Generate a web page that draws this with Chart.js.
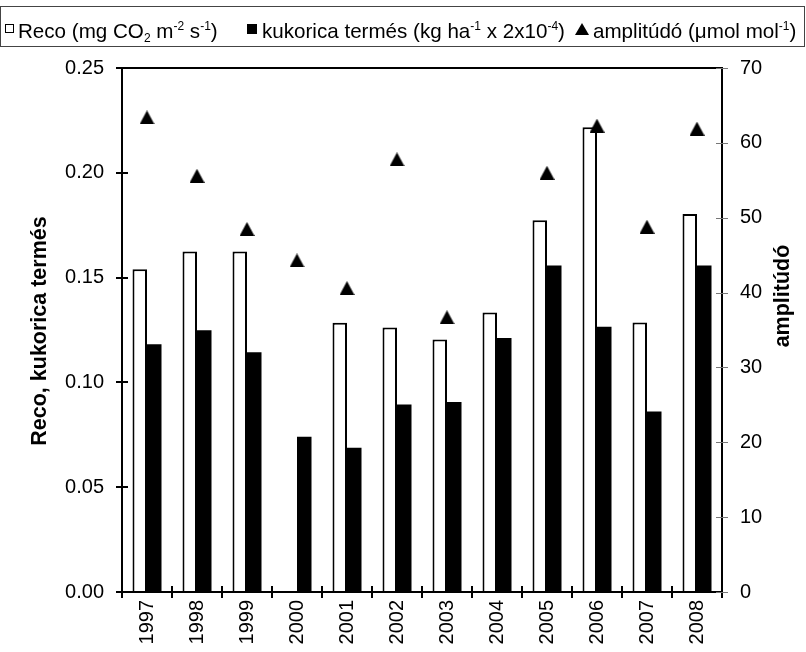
<!DOCTYPE html>
<html>
<head>
<meta charset="utf-8">
<script src="https://cdn.jsdelivr.net/npm/chart.js@4/dist/chart.umd.min.js"></script>
<style>
  html, body { margin: 0; padding: 0; background: #fff; }
  #wrap { position: relative; width: 806px; height: 652px; }
  #chart { position: absolute; left: 0; top: 0; }
  #legend {
    position: absolute; left: 0; top: 6px; width: 805px; height: 41px;
    border: 1px solid #444; box-sizing: border-box;
    font-family: 'Liberation Sans', Arial, sans-serif; font-size: 20.6px; color: #000;
  }
  .item { position: absolute; top: 12px; line-height: 23px; white-space: nowrap; }
  .sw { position: absolute; }
  sup, sub { font-size: 12px; position: relative; vertical-align: baseline; line-height: 0; }
  sup { top: -8px; }
  sub { top: 4px; }
</style>
</head>
<body>
<div id="wrap">
  <canvas id="chart" width="806" height="652"></canvas>
  <div id="legend">
    <span class="sw" style="left:4px;top:17px;width:7px;height:7px;border:1.5px solid #000;background:#fff"></span>
    <span class="item" style="left:17px">Reco (mg CO<sub>2</sub> m<sup>-2</sup> s<sup>-1</sup>)</span>
    <span class="sw" style="left:246px;top:17px;width:10px;height:10px;background:#000"></span>
    <span class="item" style="left:261px">kukorica termés (kg ha<sup>-1</sup> x 2x10<sup>-4</sup>)</span>
    <span class="sw" style="left:574px;top:16px;width:0;height:0;border-left:7px solid transparent;border-right:7px solid transparent;border-bottom:12px solid #000"></span>
    <span class="item" style="left:592px">amplitúdó (μmol mol<sup>-1</sup>)</span>
  </div>
</div>
<script>
// Years on the category axis
const years = ['1997', '1998', '1999', '2000', '2001', '2002', '2003', '2004', '2005', '2006', '2007', '2008'];
// Ecosystem respiration (mg CO2 m-2 s-1); no value for 2000
const reco = [0.154, 0.1624, 0.1624, null, 0.1284, 0.1262, 0.1205, 0.1334, 0.1774, 0.2217, 0.1286, 0.1804];
// Maize yield (kg ha-1 x 2x10-4)
const termes = [0.1182, 0.1249, 0.1144, 0.0741, 0.0688, 0.0895, 0.0907, 0.1212, 0.1558, 0.1266, 0.0861, 0.1558];
// Amplitude (umol mol-1); no value for 2004
const amplitudo = [63.4, 55.6, 48.5, 44.3, 40.6, 57.8, 36.7, null, 56.0, 62.3, 48.8, 61.9];

const FONT = "'Liberation Sans', Arial, sans-serif";

// Solid triangle marker, centred on its bounding box
function triangleMarker(w, h) {
  const c = document.createElement('canvas');
  c.width = w; c.height = h;
  const g = c.getContext('2d');
  g.fillStyle = '#000';
  g.beginPath();
  g.moveTo(w / 2, 0);
  g.lineTo(w, h);
  g.lineTo(0, h);
  g.closePath();
  g.fill();
  return c;
}

// Plot frame, crossing tick marks and axis titles
const framePlugin = {
  id: 'frame',
  afterDraw(chart) {
    const { ctx, chartArea: a, scales } = chart;
    ctx.save();
    ctx.strokeStyle = '#000';
    ctx.lineWidth = 2;
    ctx.strokeRect(a.left, a.top, a.right - a.left, a.bottom - a.top);

    ctx.beginPath();
    scales.y.ticks.forEach((t, i) => {
      const yy = Math.round(scales.y.getPixelForTick(i));
      ctx.moveTo(a.left - 6, yy); ctx.lineTo(a.left + 6, yy);
    });
    for (let i = 0; i <= years.length; i++) {
      const xx = Math.round(scales.x.getPixelForValue(i - 0.5));
      ctx.moveTo(xx, a.bottom - 6); ctx.lineTo(xx, a.bottom + 6);
    }
    ctx.stroke();

    ctx.strokeStyle = '#777';
    ctx.lineWidth = 1;
    ctx.beginPath();
    scales.y2.ticks.forEach((t, i) => {
      const yy = Math.round(scales.y2.getPixelForTick(i)) + 0.5;
      ctx.moveTo(a.right - 6, yy); ctx.lineTo(a.right + 6, yy);
    });
    ctx.stroke();

    ctx.fillStyle = '#000';
    ctx.font = 'bold 21.5px ' + FONT;
    ctx.textAlign = 'center';
    ctx.textBaseline = 'middle';
    ctx.save();
    ctx.translate(40, 331);
    ctx.rotate(-Math.PI / 2);
    ctx.fillText('Reco, kukorica termés', 0, 0);
    ctx.restore();
    ctx.save();
    ctx.translate(783, 296);
    ctx.rotate(-Math.PI / 2);
    ctx.fillText('amplitúdó', 0, 0);
    ctx.restore();
    ctx.restore();
  }
};

Chart.defaults.font.family = FONT;
Chart.defaults.font.size = 20;
Chart.defaults.color = '#000';

new Chart(document.getElementById('chart'), {
  type: 'bar',
  data: {
    labels: years,
    datasets: [
      {
        type: 'line',
        label: 'amplitúdó',
        data: amplitudo,
        yAxisID: 'y2',
        showLine: false,
        pointStyle: triangleMarker(15, 14),
        pointRadius: 8,
        order: 0
      },
      {
        label: 'Reco',
        data: reco,
        yAxisID: 'y',
        backgroundColor: '#fff',
        borderColor: '#000',
        borderWidth: 2,
        order: 1
      },
      {
        label: 'kukorica termés',
        data: termes,
        yAxisID: 'y',
        backgroundColor: '#000',
        borderWidth: 0,
        order: 1
      }
    ]
  },
  options: {
    responsive: false,
    animation: false,
    devicePixelRatio: 1,
    categoryPercentage: 0.58,
    barPercentage: 1.0,
    layout: { padding: { top: 68, left: 0, right: 0, bottom: 0 } },
    plugins: { legend: { display: false }, tooltip: { enabled: false } },
    scales: {
      x: {
        grid: { display: false, drawTicks: false },
        border: { display: false },
        ticks: { minRotation: 90, maxRotation: 90, padding: 8, autoSkip: false },
        afterFit(s) { s.height = 60; }
      },
      y: {
        position: 'left',
        min: 0, max: 0.25,
        grid: { display: false, drawTicks: false },
        border: { display: false },
        ticks: { stepSize: 0.05, padding: 18, callback: v => v.toFixed(2) },
        afterFit(s) { s.width = 122; }
      },
      y2: {
        position: 'right',
        min: 0, max: 70,
        grid: { display: false, drawTicks: false },
        border: { display: false },
        ticks: { stepSize: 10, padding: 18 },
        afterFit(s) { s.width = 84; }
      }
    }
  },
  plugins: [framePlugin]
});
</script>
</body>
</html>
